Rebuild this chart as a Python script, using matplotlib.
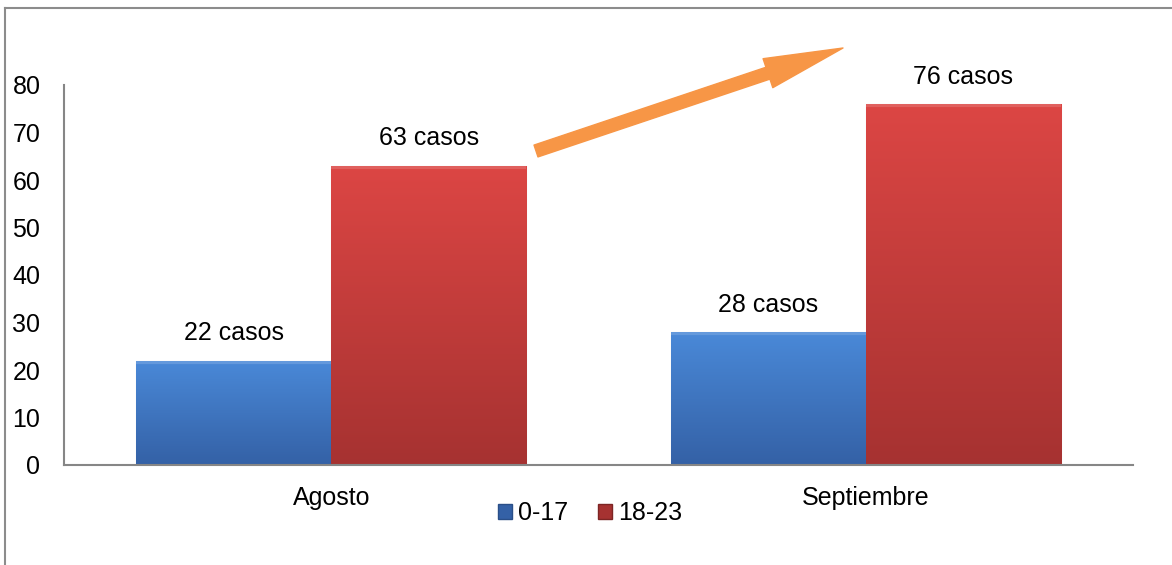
import numpy as np
import matplotlib
matplotlib.use('Agg')
import matplotlib.pyplot as plt
from matplotlib.colors import LinearSegmentedColormap
from matplotlib.lines import Line2D

plt.rcParams['font.family'] = ['Liberation Sans', 'DejaVu Sans']

#### data ##############################################################
months = ['Agosto', 'Septiembre']
series_names = ['0-17', '18-23']
cases_0_17 = [22, 28]
cases_18_23 = [63, 76]
bar_labels_0_17 = ['22 casos', '28 casos']
bar_labels_18_23 = ['63 casos', '76 casos']

blue_top, blue_bot = '#4a89d8', '#3461a6'
red_top, red_bot = '#dc4644', '#a63231'

fig = plt.figure(figsize=(11.72, 5.65), dpi=100)
ax = fig.add_axes([64/1172, 100/565, (1133-64)/1172, (465-85)/565])


def gradient_fill(ax, bars, c_top, c_bot):
    # vertical gradient clipped to each bar
    cmap = LinearSegmentedColormap.from_list('g', [c_bot, c_top])
    grad = np.linspace(0, 1, 256).reshape(-1, 1)
    for b in bars:
        x0, y0 = b.get_x(), b.get_y()
        w, h = b.get_width(), b.get_height()
        im = ax.imshow(grad, cmap=cmap, origin='lower', aspect='auto',
                       extent=(x0, x0 + w, y0, y0 + h), zorder=2)
        im.set_clip_path(b)
        b.set_facecolor('none')
        b.set_edgecolor('#00000030')
        b.set_linewidth(0.8)
        # light bevel along the top
        ax.plot([x0, x0 + w], [y0 + h - 0.3, y0 + h - 0.3],
                color='white', alpha=0.15, lw=3, zorder=3, solid_capstyle='butt')


x = np.arange(len(months))
w = 0.365
b1 = ax.bar(x - w/2, cases_0_17, w, label=series_names[0], color=blue_top, zorder=2)
b2 = ax.bar(x + w/2, cases_18_23, w, label=series_names[1], color=red_top, zorder=2)
gradient_fill(ax, b1, blue_top, blue_bot)
gradient_fill(ax, b2, red_top, red_bot)

for bars, labels in [(b1, bar_labels_0_17), (b2, bar_labels_18_23)]:
    for b, lab in zip(bars, labels):
        ax.annotate(lab, (b.get_x() + b.get_width()/2, b.get_height()),
                    xytext=(0, 11), textcoords='offset points',
                    ha='center', va='bottom', fontsize=18)

ax.set_xlim(-0.5, 1.5)
ax.set_ylim(0, 80)
ax.set_yticks(range(0, 81, 10))
ax.set_xticks(x)
ax.set_xticklabels(months)
ax.tick_params(axis='y', length=0, pad=17, labelsize=18)
ax.tick_params(axis='x', length=0, pad=15, labelsize=18)
for s in ['top', 'right']:
    ax.spines[s].set_visible(False)
for s in ['left', 'bottom']:
    ax.spines[s].set_color('#868686')
    ax.spines[s].set_linewidth(1.5)

# legend with patch colours matching bars
handles = [plt.Rectangle((0, 0), 1, 1, facecolor=blue_bot, edgecolor='#2a4f88'),
           plt.Rectangle((0, 0), 1, 1, facecolor=red_bot, edgecolor='#7d2524')]
fig.legend(handles, series_names, loc='center', bbox_to_anchor=(590/1172, 1 - 513/565),
           ncol=2, frameon=False, fontsize=18, handlelength=0.55, handleheight=0.55,
           handletextpad=0.25, columnspacing=1.2)

# orange arrow
ax.annotate('', xy=(843, 565-48), xycoords='figure pixels',
            xytext=(536, 565-151), textcoords='figure pixels',
            arrowprops=dict(arrowstyle='simple,head_length=2.85,head_width=1.1,tail_width=0.45',
                            color='#f79646', mutation_scale=20, shrinkA=0, shrinkB=0))

# chart frame (left and top edges)
fig.add_artist(Line2D([5/1172, 5/1172], [0, 1 - 8/565], color='#8c8c8c', lw=1.5,
                      transform=fig.transFigure))
fig.add_artist(Line2D([5/1172, 1], [1 - 8/565, 1 - 8/565], color='#8c8c8c', lw=1.5,
                      transform=fig.transFigure))

fig.savefig('out.png', dpi=100)
